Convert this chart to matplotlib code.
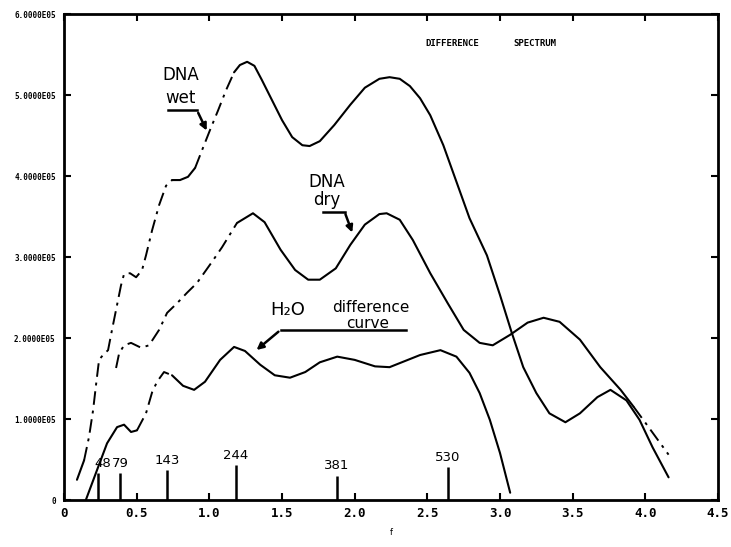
import numpy as np
import matplotlib
matplotlib.use("Agg")
import matplotlib.pyplot as plt

# values (x in plot units, y in units of 1e5)
wet_x = [0.089, 0.138, 0.172, 0.20, 0.22, 0.241, 0.268, 0.303, 0.33, 0.365, 0.392, 0.413,
         0.454, 0.496, 0.537, 0.564, 0.606, 0.654, 0.702, 0.743, 0.798, 0.853, 0.902, 0.950,
         1.005, 1.06, 1.115, 1.17, 1.21, 1.26, 1.31, 1.36, 1.43, 1.50, 1.57, 1.64, 1.69,
         1.76, 1.86, 1.97, 2.07, 2.17, 2.24, 2.31, 2.38, 2.45, 2.52, 2.61, 2.70, 2.79, 2.91,
         3.00, 3.08, 3.16, 3.25, 3.34, 3.45, 3.55, 3.67, 3.76, 3.87, 3.96, 4.05, 4.16]
wet_y = [0.25, 0.49, 0.78, 1.11, 1.42, 1.73, 1.79, 1.85, 2.10, 2.41, 2.65, 2.79,
         2.80, 2.75, 2.84, 3.02, 3.33, 3.64, 3.88, 3.95, 3.95, 3.99, 4.10, 4.32,
         4.57, 4.81, 5.06, 5.28, 5.37, 5.41, 5.36, 5.19, 4.94, 4.69, 4.48, 4.38, 4.37,
         4.43, 4.63, 4.88, 5.09, 5.20, 5.22, 5.20, 5.11, 4.96, 4.75, 4.38, 3.93, 3.48, 3.02,
         2.53, 2.07, 1.64, 1.32, 1.07, 0.96, 1.07, 1.27, 1.36, 1.23, 0.99, 0.65, 0.28]

dry_x = [0.358, 0.379, 0.413, 0.461, 0.530, 0.585, 0.654, 0.709, 0.778, 0.847, 0.915,
         1.018, 1.087, 1.19, 1.30, 1.38, 1.49, 1.59, 1.68, 1.76, 1.87, 1.97, 2.07, 2.17,
         2.22, 2.31, 2.40, 2.52, 2.64, 2.75, 2.86, 2.95, 3.07, 3.19, 3.30, 3.41, 3.55,
         3.69, 3.83, 3.92, 4.01, 4.16]
dry_y = [1.63, 1.81, 1.91, 1.94, 1.88, 1.91, 2.10, 2.31, 2.43, 2.56, 2.68,
         2.94, 3.12, 3.42, 3.54, 3.43, 3.09, 2.84, 2.72, 2.72, 2.86, 3.15, 3.40, 3.53,
         3.54, 3.46, 3.21, 2.80, 2.43, 2.10, 1.94, 1.91, 2.04, 2.19, 2.25, 2.20, 1.98,
         1.64, 1.36, 1.15, 0.93, 0.56]

h2o_x = [0.15, 0.227, 0.296, 0.365, 0.413, 0.461, 0.502, 0.564, 0.606, 0.64, 0.688,
         0.743, 0.819, 0.895, 0.970, 1.074, 1.17, 1.245, 1.35, 1.45, 1.555, 1.66, 1.76,
         1.88, 2.00, 2.14, 2.24, 2.31, 2.45, 2.59, 2.70, 2.79, 2.86, 2.93, 3.00, 3.07]
h2o_y = [0.0, 0.37, 0.70, 0.90, 0.93, 0.84, 0.86, 1.07, 1.33, 1.46, 1.58,
         1.54, 1.41, 1.36, 1.46, 1.73, 1.89, 1.84, 1.67, 1.54, 1.51, 1.58, 1.70,
         1.77, 1.73, 1.65, 1.64, 1.69, 1.79, 1.85, 1.77, 1.57, 1.32, 0.99, 0.58, 0.09]

# x-ranges where the scanned trace is broken up
wet_broken = [(0.17, 0.74), (0.95, 1.12)]
dry_broken = [(0.35, 1.09), (3.95, 4.2)]
h2o_broken = [(0.56, 0.69)]

peak_labels = ["48", "79", "143", "244", "381", "530"]
peak_x = [0.234, 0.385, 0.709, 1.184, 1.879, 2.64]
peak_h = [0.33, 0.33, 0.37, 0.43, 0.30, 0.41]

x_ticks = [0, 0.5, 1.0, 1.5, 2.0, 2.5, 3.0, 3.5, 4.0, 4.5]
x_ticklabels = ["0", "0.5", "1.0", "1.5", "2.0", "2.5", "3.0", "3.5", "4.0", "4.5"]
y_ticks = [0, 1, 2, 3, 4, 5, 6]
y_ticklabels = ["0", "1.0000E05", "2.0000E05", "3.0000E05", "4.0000E05", "5.0000E05", "6.0000E05"]


def draw_trace(ax, xs, ys, broken):
    xs = np.array(xs)
    ys = np.array(ys) * 1e5
    inside = np.zeros(len(xs), dtype=bool)
    for a, b in broken:
        inside |= (xs >= a) & (xs <= b)
    solid = np.where(inside, np.nan, ys)
    # keep the join points so the pieces touch
    dashed = ys.copy()
    for i in range(len(xs)):
        near = inside[max(i - 1, 0):i + 2].any()
        if not near:
            dashed[i] = np.nan
    ax.plot(xs, solid, color="black", lw=1.5, solid_capstyle="round")
    ax.plot(xs, dashed, color="black", lw=1.4, linestyle=(0, (7, 3, 1.5, 3)))


fig = plt.figure(figsize=(7.31, 5.47), dpi=100)
ax = fig.add_axes([0.0876, 0.0859, 0.8946, 0.8885])

draw_trace(ax, wet_x, wet_y, wet_broken)
draw_trace(ax, dry_x, dry_y, dry_broken)
draw_trace(ax, h2o_x, h2o_y, h2o_broken)

ax.vlines(peak_x, 0, np.array(peak_h) * 1e5, color="black", lw=1.8)
for lab, px, ph in zip(peak_labels, peak_x, peak_h):
    dx = 0.03 if lab == "48" else 0.0
    ax.text(px + dx, ph * 1e5 + 0.04e5, lab, ha="center", va="bottom", fontsize=9.5)

hand = dict(color="black", fontsize=12)
ax.text(0.80, 5.25e5, "DNA", ha="center", va="center", **hand)
ax.text(0.80, 4.96e5, "wet", ha="center", va="center", **hand)
ax.plot([0.716, 0.915], [4.81e5, 4.81e5], color="black", lw=1.8)
ax.annotate("", xy=(0.99, 4.53e5), xytext=(0.915, 4.81e5),
            arrowprops=dict(arrowstyle="-|>", color="black", lw=1.8, mutation_scale=10))

ax.text(1.81, 3.93e5, "DNA", ha="center", va="center", **hand)
ax.text(1.81, 3.70e5, "dry", ha="center", va="center", **hand)
ax.plot([1.78, 1.93], [3.56e5, 3.56e5], color="black", lw=1.8)
ax.annotate("", xy=(1.99, 3.27e5), xytext=(1.93, 3.56e5),
            arrowprops=dict(arrowstyle="-|>", color="black", lw=1.8, mutation_scale=10))

ax.text(1.54, 2.34e5, "H₂O", ha="center", va="center", fontsize=13)
ax.text(2.11, 2.38e5, "difference", ha="center", va="center", fontsize=11)
ax.text(2.09, 2.18e5, "curve", ha="center", va="center", fontsize=11)
ax.plot([1.49, 2.35], [2.10e5, 2.10e5], color="black", lw=1.8)
ax.annotate("", xy=(1.31, 1.83e5), xytext=(1.49, 2.10e5),
            arrowprops=dict(arrowstyle="-|>", color="black", lw=1.8, mutation_scale=10))

mono = dict(family="DejaVu Sans Mono", fontweight="bold", fontsize=6.5)
ax.text(2.67, 5.63e5, "DIFFERENCE", ha="center", va="center", **mono)
ax.text(3.24, 5.63e5, "SPECTRUM", ha="center", va="center", **mono)

ax.set_xlim(0, 4.5)
ax.set_ylim(0, 6e5)
ax.set_xticks(x_ticks)
ax.set_xticklabels(x_ticklabels, family="DejaVu Sans Mono", fontweight="bold", fontsize=9)
ax.set_yticks([t * 1e5 for t in y_ticks])
ax.set_yticklabels(y_ticklabels, family="DejaVu Sans Mono", fontweight="bold", fontsize=5.5)
ax.tick_params(direction="in", length=5, width=1.5, top=True, right=True, pad=5)
ax.tick_params(axis="y", pad=6)
for sp in ax.spines.values():
    sp.set_linewidth(2)
ax.set_xlabel("f", fontsize=6, labelpad=6)

fig.savefig("out.png", dpi=100)
